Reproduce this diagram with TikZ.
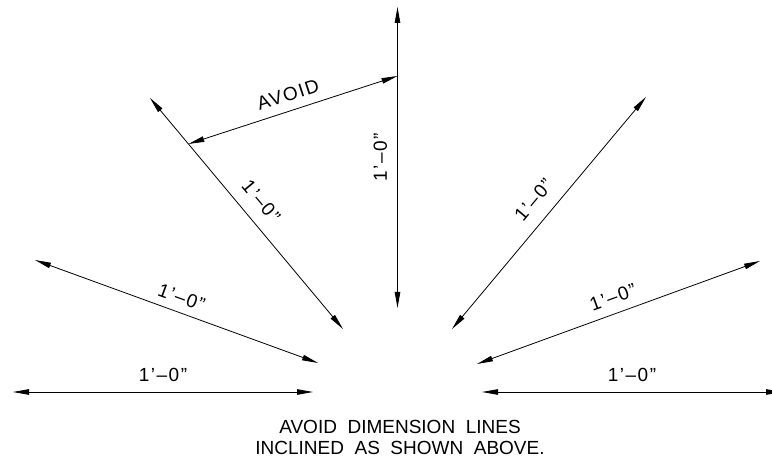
\documentclass[tikz,border=0pt]{standalone}
\usepackage{fontspec}
\setmainfont{Liberation Sans}
\usetikzlibrary{arrows.meta}
\begin{document}
\begin{tikzpicture}[x=1pt,y=-1pt,
  dimline/.style={line width=0.8pt, {Triangle[length=16pt,width=5.5pt]}-{Triangle[length=16pt,width=5.5pt]}},
  dimlabel/.style={midway, sloped, above, inner xsep=0pt, font=\fontsize{19}{21}\selectfont\addfontfeature{LetterSpace=8}},
  note/.style={align=center, font=\fontsize{19}{21}\selectfont, inner sep=0pt}]
\useasboundingbox (0,0) rectangle (772,457);
% end points
\coordinate (vb) at (397.5,308);
\coordinate (vt) at (397.5,7);
\coordinate (va) at (397.5,76);
\coordinate (ult) at (150,98);
\coordinate (ulb) at (343,329);
\coordinate (ua) at (188.4,144);
\coordinate (urb) at (452,329);
\coordinate (urt) at (646,97);
\coordinate (lml) at (35,260);
\coordinate (lmr) at (318,363);
\coordinate (rml) at (477,364);
\coordinate (rmr) at (760,261);
\coordinate (lhl) at (13,392);
\coordinate (lhr) at (313,392);
\coordinate (rhl) at (482,392);
\coordinate (rhr) at (782,392);
% dimension lines
\draw[dimline] (vb) -- (vt) node[dimlabel, inner ysep=10pt] (lv) {1'--0"};
\draw[dimline] (ult) -- (ulb) node[dimlabel, inner ysep=12pt] (lul) {1'--0"};
\draw[dimline] (ua) -- (va) node[dimlabel, inner ysep=9pt] (lav) {AVOID};
\draw[dimline] (lml) -- (lmr) node[dimlabel, inner ysep=8pt] (llm) {1'--0"};
\draw[dimline] (lhl) -- (lhr) node[dimlabel, inner ysep=10pt] (llh) {1'--0"};
\draw[dimline] (urb) -- (urt) node[dimlabel, inner ysep=13pt] (lur) {1'--0"};
\draw[dimline] (rml) -- (rmr) node[dimlabel, inner ysep=9pt] (lrm) {1'--0"};
\draw[dimline] (rhl) -- (rhr) node[dimlabel, inner ysep=10pt] (lrh) {1'--0"};
% note
\node[note] (n1) at (400,427) {AVOID\ \ DIMENSION\ \ LINES};
\node[note] (n2) at (400,448) {INCLINED\ \ AS\ \ SHOWN\ \ ABOVE.};
\end{tikzpicture}
\end{document}
